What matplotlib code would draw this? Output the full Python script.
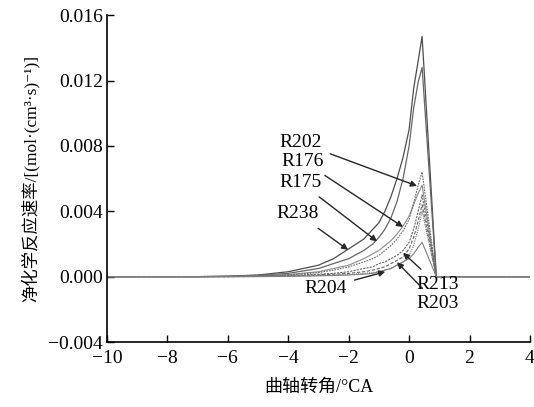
import numpy as np
import matplotlib
matplotlib.use('Agg')
import matplotlib.pyplot as plt

plt.rcParams['font.family'] = ['Liberation Serif', 'Noto Sans CJK SC', 'DejaVu Sans']
plt.rcParams['axes.unicode_minus'] = True

# crank angle grid (°CA)
ca = [-10, -7, -6, -5, -4, -3, -2.5, -2, -1.5, -1.2, -1, -0.8, -0.6, -0.4, -0.2, 0, 0.15, 0.3, 0.43, 0.9, 4]

# net reaction rates
r238 = [0, 0, 0.00003, 0.0001, 0.0003, 0.0007, 0.0011, 0.0017, 0.0023, 0.0029, 0.0033, 0.0040, 0.0049,
        0.0060, 0.0073, 0.0090, 0.0115, 0.0132, 0.0147, 0, 0]
r175 = [0, 0, 0.00002, 0.00008, 0.0002, 0.0005, 0.0008, 0.0011, 0.0016, 0.0020, 0.0024, 0.0029, 0.0036,
        0.0046, 0.0060, 0.0080, 0.0103, 0.0119, 0.0128, 0, 0]
r176 = [0, 0, 0.00001, 0.00005, 0.00013, 0.0003, 0.0005, 0.0007, 0.0011, 0.0014, 0.0016, 0.0019, 0.0022,
        0.0026, 0.0031, 0.0037, 0.0044, 0.0051, 0.0056, 0, 0]
r202 = [0, 0, 0.00001, 0.00004, 0.0001, 0.00025, 0.0004, 0.0006, 0.0009, 0.0011, 0.0013, 0.0016, 0.0019,
        0.0023, 0.0028, 0.0035, 0.0045, 0.0056, 0.0064, 0, 0]
r213 = [0, 0, 0, 0.00002, 0.00006, 0.00015, 0.0002, 0.0003, 0.0005, 0.0006, 0.0008, 0.0009, 0.0011,
        0.0013, 0.0016, 0.0021, 0.0029, 0.0040, 0.0050, 0, 0]
r203 = [0, 0, 0, 0.00001, 0.00004, 0.0001, 0.00015, 0.0002, 0.0003, 0.0004, 0.0005, 0.0006, 0.0008,
        0.0010, 0.0012, 0.0017, 0.0024, 0.0034, 0.0044, 0, 0]
r204 = [0, 0, 0, 0.00001, 0.00003, 0.00007, 0.0001, 0.00012, 0.0002, 0.00025, 0.0003, 0.0004, 0.0005,
        0.0007, 0.0009, 0.0013, 0.0019, 0.0029, 0.0040, 0, 0]
r_small = [0, 0, 0, 0, 0.00002, 0.00005, 0.00007, 0.0001, 0.00015, 0.0002, 0.0003, 0.0004, 0.0005,
           0.0007, 0.0009, 0.0011, 0.0014, 0.0018, 0.0021, 0, 0]

fig = plt.figure(figsize=(5.34, 4.07), dpi=100)
ax = fig.add_axes([0.2004, 0.1597, 0.792, 0.803])

ax.plot(ca, r238, color='0.3', lw=0.9)
ax.plot(ca, r175, color='0.4', lw=0.9)
ax.plot(ca, r176, color='0.55', lw=0.8)
ax.plot(ca, r202, color='0.4', lw=0.8, ls=(0, (1.5, 1)))
ax.plot(ca, r213, color='0.4', lw=0.8, ls=(0, (2, 1)))
ax.plot(ca, r203, color='0.4', lw=0.8, ls=(0, (3, 1.5)))
ax.plot(ca, r204, color='0.45', lw=0.8, ls=(0, (1, 1)))
ax.plot(ca, r_small, color='0.5', lw=0.8)

ax.set_xlim(-10, 4)
ax.set_ylim(-0.004, 0.016)
ax.set_xticks(np.arange(-10, 5, 2))
ax.set_yticks(np.arange(-0.004, 0.0161, 0.004))
ax.yaxis.set_major_formatter(matplotlib.ticker.FuncFormatter(
    lambda v, p: ('\u2212' if v < -1e-9 else '') + '%.3f' % abs(v)))
ax.xaxis.set_major_formatter(matplotlib.ticker.FuncFormatter(
    lambda v, p: ('\u2212' if v < 0 else '') + '%d' % abs(v)))
ax.tick_params(direction='in', length=5, width=1, labelsize=14)
ax.tick_params(axis='x', pad=6)
ax.tick_params(axis='y', pad=3)
for lab in ax.get_yticklabels():
    lab.set_verticalalignment('center_baseline')
ax.spines['top'].set_visible(False)
ax.spines['right'].set_visible(False)
for s in ['left', 'bottom']:
    ax.spines[s].set_linewidth(1.2)

ax.set_xlabel('曲轴转角/°CA', fontsize=13, labelpad=8)
ax.set_ylabel('净化学反应速率/[(mol·(cm³·s)⁻¹)]', fontsize=12.5, labelpad=6)

arrow = dict(arrowstyle='-|>', color='0.15', lw=1.0, mutation_scale=9, shrinkA=4, shrinkB=0)
labels = [
    ('R202', (0.26, 0.00555), (-3.58, 0.00818)),
    ('R176', (-0.2, 0.00304), (-3.51, 0.00707)),
    ('R175', (-1.06, 0.00216), (-3.61, 0.00578)),
    ('R238', (-2.02, 0.00164), (-3.68, 0.00385)),
    ('R204', (-0.79, 0.0003), (-2.78, -0.0007)),
    ('R213', (-0.2, 0.00146), (0.93, -0.00047)),
    ('R203', (-0.4, 0.00088), (0.93, -0.00164)),
]
for name, tip, txt in labels:
    ax.annotate(name, xy=tip, xytext=txt, fontsize=14, ha='center', va='center',
                arrowprops=arrow)

fig.savefig('out.png', dpi=100)
